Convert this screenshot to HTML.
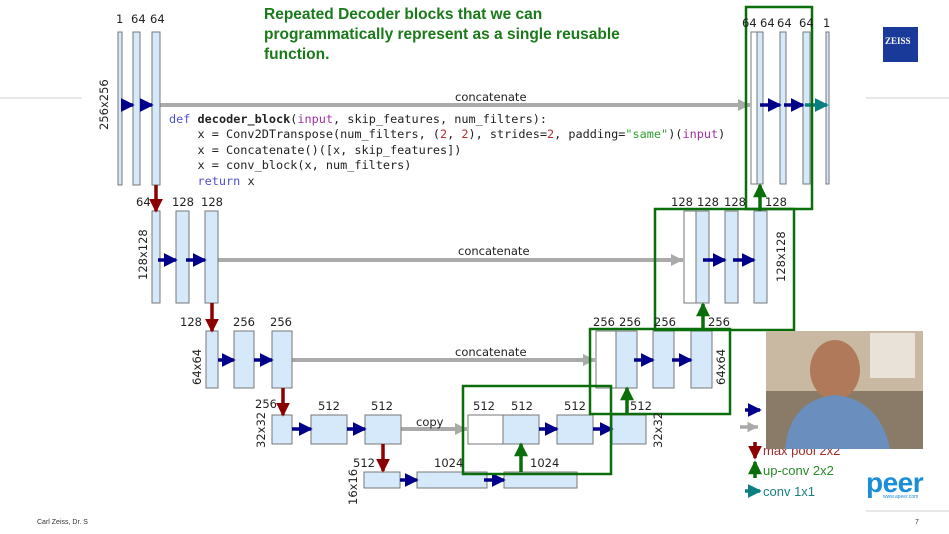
<!DOCTYPE html>
<html><head><meta charset="utf-8"><style>
body{margin:0;background:#fff;width:949px;height:534px;overflow:hidden;position:relative;font-family:"Liberation Sans",sans-serif}
svg{position:absolute;left:0;top:0}
.t{font-family:"DejaVu Sans","Liberation Sans",sans-serif;font-size:11.5px;fill:#222}
.code{position:absolute;left:163px;top:110px;font-family:"DejaVu Sans Mono","Liberation Mono",monospace;font-size:11.85px;line-height:15.4px;color:#222;white-space:pre;background:#fff;padding:2px 6px}
.title{position:absolute;left:264px;top:5px;color:#1a7a1a;font-weight:bold;font-size:15.5px;line-height:20px}
</style></head><body>
<svg width="949" height="534" viewBox="0 0 949 534">
<defs>
<marker id="b" markerWidth="4" markerHeight="4" refX="3.5" refY="2" orient="auto" markerUnits="strokeWidth"><path d="M0,0L4,2L0,4z" fill="#00008b"/></marker>
<marker id="g" markerWidth="3" markerHeight="3" refX="3" refY="1.5" orient="auto" markerUnits="strokeWidth"><path d="M0,0L3,1.5L0,3z" fill="#aaa"/></marker>
<marker id="r" markerWidth="4" markerHeight="4" refX="3.5" refY="2" orient="auto" markerUnits="strokeWidth"><path d="M0,0L4,2L0,4z" fill="#8b0000"/></marker>
<marker id="gr" markerWidth="4" markerHeight="4" refX="3.5" refY="2" orient="auto" markerUnits="strokeWidth"><path d="M0,0L4,2L0,4z" fill="#0a6e0a"/></marker>
<marker id="tl" markerWidth="4" markerHeight="4" refX="3.5" refY="2" orient="auto" markerUnits="strokeWidth"><path d="M0,0L4,2L0,4z" fill="#0a7f80"/></marker>
</defs>
<g stroke="#e0e0e0" stroke-width="1.5"><line x1="0" y1="98" x2="82" y2="98"/><line x1="866" y1="98" x2="949" y2="98"/><line x1="866" y1="511" x2="949" y2="511"/></g>
<g stroke="#aaa" stroke-width="4" marker-end="url(#g)">
<line x1="160" y1="105" x2="750" y2="105"/>
<line x1="218" y1="260" x2="683" y2="260"/>
<line x1="292" y1="360" x2="595" y2="360"/>
<line x1="401" y1="429" x2="467" y2="429"/>
</g>
<g fill="#d6e9fb" stroke="#777" stroke-width="1">
<rect x="118" y="32" width="4" height="153"/><rect x="133" y="32" width="7" height="153"/><rect x="152" y="32" width="8" height="153"/>
<rect x="751" y="32" width="6" height="152" fill="#fff"/><rect x="757" y="32" width="6" height="152"/><rect x="780" y="32" width="6" height="152"/><rect x="803" y="32" width="7" height="152"/><rect x="826" y="32" width="3" height="152"/>
<rect x="152" y="211" width="8" height="92"/><rect x="176" y="211" width="13" height="92"/><rect x="205" y="211" width="13" height="92"/>
<rect x="684" y="211" width="12" height="92" fill="#fff"/><rect x="696" y="211" width="13" height="92"/><rect x="725" y="211" width="13" height="92"/><rect x="754" y="211" width="13" height="92"/>
<rect x="206" y="331" width="12" height="57"/><rect x="234" y="331" width="20" height="57"/><rect x="272" y="331" width="20" height="57"/>
<rect x="596" y="331" width="20" height="57" fill="#fff"/><rect x="616" y="331" width="21" height="57"/><rect x="653" y="331" width="21" height="57"/><rect x="691" y="331" width="21" height="57"/>
<rect x="272" y="415" width="20" height="29"/><rect x="311" y="415" width="36" height="29"/><rect x="365" y="415" width="36" height="29"/>
<rect x="468" y="415" width="35" height="29" fill="#fff"/><rect x="503" y="415" width="36" height="29"/><rect x="557" y="415" width="36" height="29"/><rect x="612" y="415" width="34" height="29"/>
<rect x="364" y="472" width="36" height="16"/><rect x="417" y="472" width="70" height="16"/><rect x="504" y="472" width="73" height="16"/>
</g>
<g stroke="#00008b" stroke-width="3.5" marker-end="url(#b)">
<line x1="122" y1="105" x2="133" y2="105"/><line x1="140" y1="105" x2="152" y2="105"/>
<line x1="760" y1="105" x2="780" y2="105"/><line x1="784" y1="105" x2="803" y2="105"/>
<line x1="158" y1="260" x2="176" y2="260"/><line x1="186" y1="260" x2="205" y2="260"/>
<line x1="703" y1="260" x2="725" y2="260"/><line x1="733" y1="260" x2="754" y2="260"/>
<line x1="218" y1="360" x2="234" y2="360"/><line x1="254" y1="360" x2="272" y2="360"/>
<line x1="634" y1="360" x2="653" y2="360"/><line x1="672" y1="360" x2="691" y2="360"/>
<line x1="292" y1="429" x2="311" y2="429"/><line x1="347" y1="429" x2="365" y2="429"/>
<line x1="539" y1="429" x2="557" y2="429"/><line x1="593" y1="429" x2="612" y2="429"/>
<line x1="400" y1="480" x2="417" y2="480"/><line x1="484" y1="480" x2="504" y2="480"/>
<line x1="745" y1="410" x2="760" y2="410"/>
</g>
<line x1="805" y1="105" x2="827" y2="105" stroke="#0a7f80" stroke-width="3.5" marker-end="url(#tl)"/>
<line x1="745" y1="491" x2="760" y2="491" stroke="#0a7f80" stroke-width="3.5" marker-end="url(#tl)"/>
<line x1="740" y1="427" x2="758" y2="427" stroke="#aaa" stroke-width="3.5" marker-end="url(#g)"/>
<g stroke="#8b0000" stroke-width="3.5" marker-end="url(#r)">
<line x1="156" y1="185" x2="156" y2="211"/><line x1="212" y1="303" x2="212" y2="331"/><line x1="283" y1="388" x2="283" y2="415"/><line x1="383" y1="444" x2="383" y2="471"/><line x1="755" y1="442" x2="755" y2="458"/>
</g>
<g stroke="#0a6e0a" stroke-width="3.5" marker-end="url(#gr)">
<line x1="760" y1="211" x2="760" y2="185"/><line x1="703" y1="331" x2="703" y2="304"/><line x1="627" y1="415" x2="627" y2="388"/><line x1="521" y1="472" x2="521" y2="444"/><line x1="755" y1="478" x2="755" y2="462"/>
</g>
<g fill="none" stroke="#0a6e0a" stroke-width="2.5">
<rect x="746" y="7" width="66" height="202"/><rect x="655" y="209" width="139" height="121"/><rect x="590" y="329" width="140" height="85"/><rect x="463" y="386" width="148" height="88"/>
</g>
<g class="t">
<text x="116" y="23">1</text><text x="131" y="23">64</text><text x="150" y="23">64</text>
<text x="742" y="27">64</text><text x="760" y="27">64</text><text x="777" y="27">64</text><text x="799" y="27">64</text><text x="823" y="27">1</text>
<text x="455" y="101">concatenate</text><text x="458" y="255">concatenate</text><text x="455" y="356">concatenate</text><text x="416" y="426">copy</text>
<text x="136" y="206">64</text><text x="172" y="206">128</text><text x="201" y="206">128</text>
<text x="671" y="206">128</text><text x="697" y="206">128</text><text x="724" y="206">128</text><text x="765" y="206">128</text>
<text x="180" y="326">128</text><text x="233" y="326">256</text><text x="270" y="326">256</text>
<text x="593" y="326">256</text><text x="619" y="326">256</text><text x="654" y="326">256</text><text x="708" y="326">256</text>
<text x="255" y="408">256</text><text x="318" y="410">512</text><text x="371" y="410">512</text>
<text x="473" y="410">512</text><text x="511" y="410">512</text><text x="564" y="410">512</text><text x="630" y="410">512</text>
<text x="353" y="467">512</text><text x="434" y="467">1024</text><text x="530" y="467">1024</text>
<text transform="translate(108,130) rotate(-90)">256x256</text>
<text transform="translate(147,280) rotate(-90)">128x128</text>
<text transform="translate(785,282) rotate(-90)">128x128</text>
<text transform="translate(201,385) rotate(-90)">64x64</text>
<text transform="translate(725,385) rotate(-90)">64x64</text>
<text transform="translate(265,448) rotate(-90)">32x32</text>
<text transform="translate(662,448) rotate(-90)">32x32</text>
<text transform="translate(357,505) rotate(-90)">16x16</text>
</g>
<text x="763" y="455" font-size="13" fill="#a52a2a" font-family="Liberation Sans">max pool 2x2</text>
<text x="763" y="475" font-size="13" fill="#2a8a2a" font-family="Liberation Sans">up-conv 2x2</text>
<text x="763" y="496" font-size="13" fill="#1a7f80" font-family="Liberation Sans">conv 1x1</text>
<rect x="766" y="331" width="157" height="118" fill="#8a7a68"/>
<rect x="766" y="331" width="157" height="60" fill="#c9b9a2"/>
<rect x="870" y="333" width="45" height="45" fill="#e8e2d8"/>
<ellipse cx="835" cy="370" rx="25" ry="30" fill="#b07a5a"/>
<path d="M785,449 Q790,400 835,395 Q880,400 890,449z" fill="#6a8fbf"/>
<rect x="883" y="27" width="35" height="35" fill="#1a3a9a"/>
<text x="885" y="44" font-size="9" font-weight="bold" fill="#fff" font-family="Liberation Serif">ZEISS</text>
<text x="866" y="492" font-size="28" font-weight="bold" fill="#1a8fd8" font-family="Liberation Sans" letter-spacing="-0.5">peer</text>
<text x="883" y="498" font-size="5" fill="#1a8fd8">www.apeer.com</text>
<text x="37" y="524" font-size="7" fill="#333">Carl Zeiss, Dr. S</text>
<text x="915" y="524" font-size="7" fill="#333">7</text>
</svg>
<div class="title">Repeated Decoder blocks that we can<br>programmatically represent as a single reusable<br>function.</div>
<div class="code"><span style="color:#5050d8">def</span> <b>decoder_block</b>(<span style="color:#a030a0">input</span>, skip_features, num_filters):
    x = Conv2DTranspose(num_filters, (<span style="color:#b03030">2</span>, <span style="color:#b03030">2</span>), strides=<span style="color:#b03030">2</span>, padding=<span style="color:#30a030">"same"</span>)(<span style="color:#a030a0">input</span>)
    x = Concatenate()([x, skip_features])
    x = conv_block(x, num_filters)
    <span style="color:#5050d8">return</span> x</div>
</body></html>
